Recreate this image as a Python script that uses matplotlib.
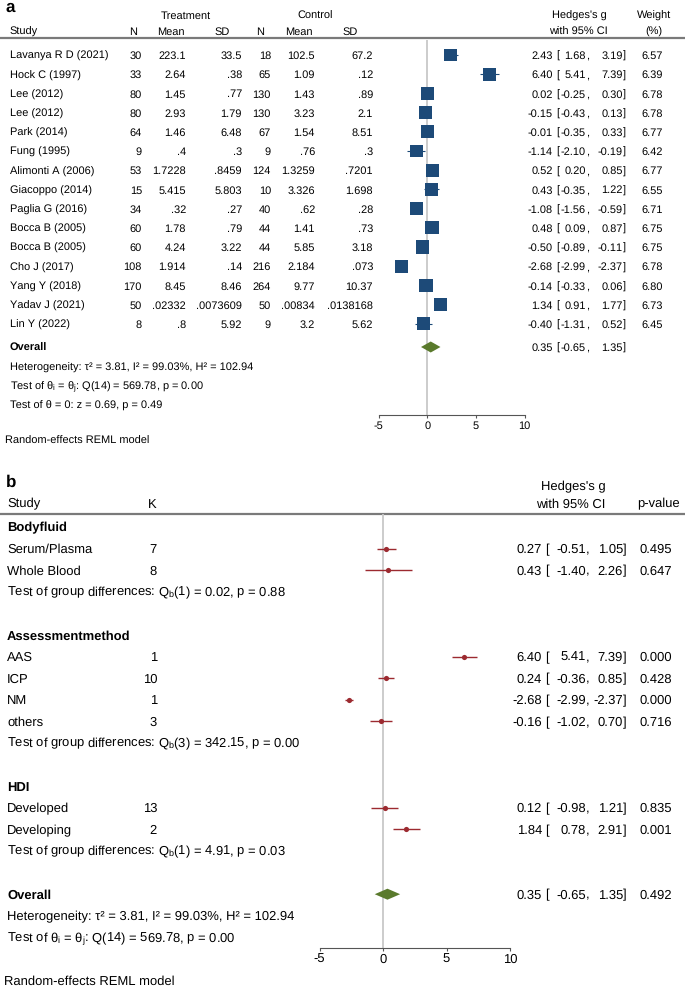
import numpy as np
import matplotlib
matplotlib.use("Agg")
import matplotlib.pyplot as plt

plt.rcParams['font.family'] = ['Liberation Sans', 'DejaVu Sans']
plt.rcParams['mathtext.fontset'] = 'custom'
plt.rcParams['mathtext.rm'] = 'Liberation Sans'
plt.rcParams['mathtext.it'] = 'Liberation Sans:italic'
plt.rcParams['mathtext.bf'] = 'Liberation Sans:bold'
plt.rcParams['axes.unicode_minus'] = False
plt.rcParams['text.hinting'] = 'no_hinting'
plt.rcParams['text.hinting_factor'] = 1

# ---- panel a data ----
studies = ["Lavanya R D (2021)", "Hock C (1997)", "Lee (2012)", "Lee (2012)", "Park (2014)",
           "Fung (1995)", "Alimonti A (2006)", "Giacoppo (2014)", "Paglia G (2016)",
           "Bocca B (2005)", "Bocca B (2005)", "Cho J (2017)", "Yang Y (2018)",
           "Yadav J (2021)", "Lin Y (2022)"]
treat_n = [30, 33, 80, 80, 64, 9, 53, 15, 34, 60, 60, 108, 170, 50, 8]
treat_mean = [223.1, 2.64, 1.45, 2.93, 1.46, 0.4, 1.7228, 5.415, 0.32, 1.78, 4.24, 1.914, 8.45, 0.02332, 0.8]
treat_sd = [33.5, 0.38, 0.77, 1.79, 6.48, 0.3, 0.8459, 5.803, 0.27, 0.79, 3.22, 0.14, 8.46, 0.0073609, 5.92]
ctrl_n = [18, 65, 130, 130, 67, 9, 124, 10, 40, 44, 44, 216, 264, 50, 9]
ctrl_mean = [102.5, 1.09, 1.43, 3.23, 1.54, 0.76, 1.3259, 3.326, 0.62, 1.41, 5.85, 2.184, 9.77, 0.00834, 3.2]
ctrl_sd = [67.2, 0.12, 0.89, 2.1, 8.51, 0.3, 0.7201, 1.698, 0.28, 0.73, 3.18, 0.073, 10.37, 0.0138168, 5.62]
g = [2.43, 6.40, 0.02, -0.15, -0.01, -1.14, 0.52, 0.43, -1.08, 0.48, -0.50, -2.68, -0.14, 1.34, -0.40]
g_lo = [1.68, 5.41, -0.25, -0.43, -0.35, -2.10, 0.20, -0.35, -1.56, 0.09, -0.89, -2.99, -0.33, 0.91, -1.31]
g_hi = [3.19, 7.39, 0.30, 0.13, 0.33, -0.19, 0.85, 1.22, -0.59, 0.87, -0.11, -2.37, 0.06, 1.77, 0.52]
weight = [6.57, 6.39, 6.78, 6.78, 6.77, 6.42, 6.77, 6.55, 6.71, 6.75, 6.75, 6.78, 6.80, 6.73, 6.45]
overall = [0.35, -0.65, 1.35]
overall_p = 0.492

# ---- panel b data ----
groups = ["Bodyfluid", "Assessmentmethod", "HDI"]
sub_labels = [["Serum/Plasma", "Whole Blood"], ["AAS", "ICP", "NM", "others"], ["Developed", "Developing"]]
sub_k = [[7, 8], [1, 10, 1, 3], [13, 2]]
sub_g = [[0.27, 0.43], [6.40, 0.24, -2.68, -0.16], [0.12, 1.84]]
sub_lo = [[-0.51, -1.40], [5.41, -0.36, -2.99, -1.02], [-0.98, 0.78]]
sub_hi = [[1.05, 2.26], [7.39, 0.85, -2.37, 0.70], [1.21, 2.91]]
sub_p = [[0.495, 0.647], [0.000, 0.428, 0.000, 0.716], [0.835, 0.001]]
qb_df = [1, 3, 1]
qb_val = [0.02, 342.15, 4.91]
qb_p = [0.88, 0.00, 0.03]

blue = '#1d4a78'
green = '#5a7a2c'
red = '#9c2a30'
zero_c = '#c8c8c8'
rule_c = '#7a7a7a'

W, H = 685, 988
fig = plt.figure(figsize=(W / 100, H / 100), dpi=100)
tx = fig.add_axes([0, 0, 1, 1])
tx.set_xlim(0, W)
tx.set_ylim(H, 0)
tx.axis('off')


def px_axes(x0, x1, y0, y1):
    a = fig.add_axes([x0 / W, 1 - y1 / H, (x1 - x0) / W, (y1 - y0) / H])
    a.patch.set_alpha(0)
    return a


def T(x, y, s, fs, ha='left', **kw):
    # y is the visual centre of the capitals; place on baseline
    tx.text(x, y + 0.36 * fs * 100 / 72, s, ha=ha, va='baseline', fontsize=fs, **kw)


def stata_num(v):
    s = f"{v:g}"
    if s.startswith("0."):
        s = s[1:]
    return s


def ci_text(y, est, lo, hi, x_est, fs):
    T(x_est, y, f"{est:.2f}", fs, ha='right')
    T(x_est + 3, y, "[", fs)
    T(586, y, f"{lo:.2f}", fs, ha='right')
    T(586, y, ",", fs)
    T(623, y, f"{hi:.2f}", fs, ha='right')
    T(623, y, "]", fs)


# ================= panel a =================
fa = 8.1
T(6, 6, "a", 12, fontweight='bold')
T(186, 15, "Treatment", fa, ha='center')
T(315, 15, "Control", fa, ha='center')
T(579, 15, "Hedges's g", fa, ha='center')
T(654, 15, "Weight", fa, ha='center')
hdr = [("Study", 10, 'left'), ("N", 133, 'center'), ("Mean", 171, 'center'), ("SD", 222, 'center'),
       ("N", 260, 'center'), ("Mean", 299, 'center'), ("SD", 350, 'center'),
       ("with 95% CI", 578, 'center'), ("(%)", 654, 'center')]
for t, x, ha in hdr:
    T(x, 31, t, fa, ha=ha)
tx.plot([0, W], [38.5, 38.5], color=rule_c, lw=1.6, solid_capstyle='butt')

row_y = [55 + 19.2 * i for i in range(len(studies))]
cols = [(treat_n, 142), (treat_mean, 186), (treat_sd, 242), (ctrl_n, 271), (ctrl_mean, 315), (ctrl_sd, 373)]
for i, y in enumerate(row_y):
    T(10, y, studies[i], fa)
    for vals, xr in cols:
        T(xr, y, stata_num(vals[i]), fa, ha='right')
    ci_text(y, g[i], g_lo[i], g_hi[i], 553, fa)
    T(663, y, f"{weight[i]:.2f}", fa, ha='right')

ov_y = 347
T(10, ov_y, "Overall", fa, fontweight='bold')
ci_text(ov_y, overall[0], overall[1], overall[2], 553, fa)
T(10, 367, "Heterogeneity: τ² = 3.81, I² = 99.03%, H² = 102.94", fa)
T(10, 386, r"Test of θ$_\mathrm{i}$ = θ$_\mathrm{j}$: Q(14) = 569.78, p = 0.00", fa)
T(10, 405, "Test of θ = 0: z = 0.69, p = 0.49", fa)
T(5, 440, "Random-effects REML model", fa)

ax = px_axes(378.7, 524.6, 40, 415)
ax.set_xlim(-5, 10)
ax.set_ylim(415, 40)
ax.axvline(0, color=zero_c, lw=1.3, zorder=0)
ax.hlines(row_y, g_lo, g_hi, color=blue, lw=0.8)
ax.scatter(g, row_y, marker='s', s=[13.3 * w for w in weight], color=blue, linewidths=0, zorder=3)
ax.fill([overall[1], overall[0], overall[2], overall[0]],
        [ov_y, ov_y - 5.5, ov_y, ov_y + 5.5], color=green, lw=0)
for s in ['top', 'right', 'left']:
    ax.spines[s].set_visible(False)
ax.spines['bottom'].set_color('#555555')
ax.spines['bottom'].set_linewidth(0.8)
ax.set_yticks([])
ax.set_xticks([-5, 0, 5, 10])
ax.tick_params(axis='x', length=2.5, width=0.8, color='#555555', labelsize=fa, pad=1.5)

# ================= panel b =================
fb = 9.0
T(6, 481, "b", 12, fontweight='bold')
T(573, 486, "Hedges's g", fb, ha='center')
T(7, 503, "Study", fb)
T(152, 503, "K", fb, ha='center')
T(571, 503, "with 95% CI", fb, ha='center')
T(658, 503, "p-value", fb, ha='center')
tx.plot([0, W], [513.5, 513.5], color=rule_c, lw=1.6, solid_capstyle='butt')

step = 21.6
top_b = 527
bx = px_axes(319.5, 510, 514, 948)
bx.set_xlim(-5, 10)
bx.set_ylim(948, 514)
bx.axvline(0, color=zero_c, lw=1.3, zorder=0)

idx = 0
for gi, name in enumerate(groups):
    y = top_b + step * idx
    T(7, y, name, fb, fontweight='bold')
    idx += 1
    ys = []
    for j, lab in enumerate(sub_labels[gi]):
        y = top_b + step * idx
        ys.append(y)
        T(7, y, lab, fb)
        T(157, y, str(sub_k[gi][j]), fb, ha='right')
        ci_text(y, sub_g[gi][j], sub_lo[gi][j], sub_hi[gi][j], 542, fb)
        T(672, y, f"{sub_p[gi][j]:.3f}", fb, ha='right')
        idx += 1
    bx.hlines(ys, sub_lo[gi], sub_hi[gi], color=red, lw=1.0)
    bx.scatter(sub_g[gi], ys, s=14, color=red, linewidths=0, zorder=3)
    y = top_b + step * idx
    T(7, y, r"Test of group differences: Q$_\mathrm{b}$(%d) = %.2f, p = %.2f" % (qb_df[gi], qb_val[gi], qb_p[gi]), fb)
    idx += 2

y = top_b + step * idx
T(7, y, "Overall", fb, fontweight='bold')
ci_text(y, overall[0], overall[1], overall[2], 542, fb)
T(672, y, f"{overall_p:.3f}", fb, ha='right')
bx.fill([overall[1], overall[0], overall[2], overall[0]],
        [y, y - 5.5, y, y + 5.5], color=green, lw=0)
T(7, y + step, "Heterogeneity: τ² = 3.81, I² = 99.03%, H² = 102.94", fb)
T(7, y + 2 * step, r"Test of θ$_\mathrm{i}$ = θ$_\mathrm{j}$: Q(14) = 569.78, p = 0.00", fb)
T(4, 980, "Random-effects REML model", fb)

for s in ['top', 'right', 'left']:
    bx.spines[s].set_visible(False)
bx.spines['bottom'].set_color('#555555')
bx.spines['bottom'].set_linewidth(0.8)
bx.set_yticks([])
bx.set_xticks([-5, 0, 5, 10])
bx.tick_params(axis='x', length=2.5, width=0.8, color='#555555', labelsize=fb, pad=1.5)

fig.savefig("out.png", dpi=100)
